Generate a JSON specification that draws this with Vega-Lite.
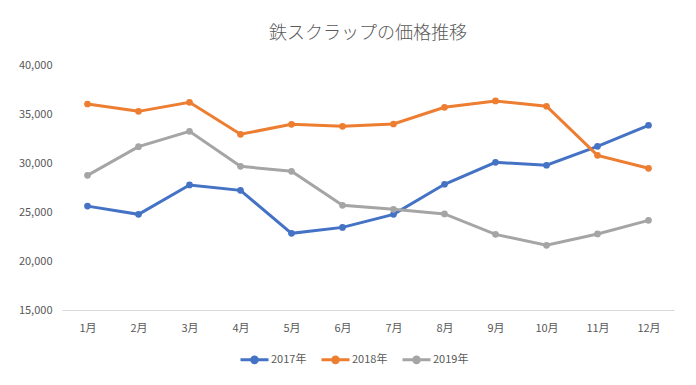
{
  "$schema": "https://vega.github.io/schema/vega-lite/v6.json",
  "width": 612,
  "height": 245,
  "autosize": {"type": "none"},
  "padding": {"left": 62, "top": 65, "right": 22, "bottom": 75},
  "background": "white",
  "title": {
    "text": "鉄スクラップの価格推移",
    "font": "Noto Sans CJK JP",
    "fontSize": 18,
    "fontWeight": 300,
    "color": "#595959",
    "anchor": "middle",
    "offset": 16
  },
  "data": {
    "values": [
      {"month": "1月", "series": "2017年", "price": 25600},
      {"month": "2月", "series": "2017年", "price": 24760},
      {"month": "3月", "series": "2017年", "price": 27760},
      {"month": "4月", "series": "2017年", "price": 27210},
      {"month": "5月", "series": "2017年", "price": 22820},
      {"month": "6月", "series": "2017年", "price": 23430},
      {"month": "7月", "series": "2017年", "price": 24760},
      {"month": "8月", "series": "2017年", "price": 27830},
      {"month": "9月", "series": "2017年", "price": 30070},
      {"month": "10月", "series": "2017年", "price": 29770},
      {"month": "11月", "series": "2017年", "price": 31700},
      {"month": "12月", "series": "2017年", "price": 33850},
      {"month": "1月", "series": "2018年", "price": 36020},
      {"month": "2月", "series": "2018年", "price": 35270},
      {"month": "3月", "series": "2018年", "price": 36190},
      {"month": "4月", "series": "2018年", "price": 32930},
      {"month": "5月", "series": "2018年", "price": 33950},
      {"month": "6月", "series": "2018年", "price": 33740},
      {"month": "7月", "series": "2018年", "price": 33980},
      {"month": "8月", "series": "2018年", "price": 35680},
      {"month": "9月", "series": "2018年", "price": 36330},
      {"month": "10月", "series": "2018年", "price": 35790},
      {"month": "11月", "series": "2018年", "price": 30780},
      {"month": "12月", "series": "2018年", "price": 29460},
      {"month": "1月", "series": "2019年", "price": 28740},
      {"month": "2月", "series": "2019年", "price": 31670},
      {"month": "3月", "series": "2019年", "price": 33230},
      {"month": "4月", "series": "2019年", "price": 29660},
      {"month": "5月", "series": "2019年", "price": 29150},
      {"month": "6月", "series": "2019年", "price": 25680},
      {"month": "7月", "series": "2019年", "price": 25270},
      {"month": "8月", "series": "2019年", "price": 24800},
      {"month": "9月", "series": "2019年", "price": 22720},
      {"month": "10月", "series": "2019年", "price": 21600},
      {"month": "11月", "series": "2019年", "price": 22760},
      {"month": "12月", "series": "2019年", "price": 24150}
    ]
  },
  "mark": {
    "type": "line",
    "strokeWidth": 3,
    "point": {"filled": true, "size": 45}
  },
  "encoding": {
    "x": {
      "field": "month",
      "type": "ordinal",
      "sort": ["1月","2月","3月","4月","5月","6月","7月","8月","9月","10月","11月","12月"],
      "scale": {"type": "point", "padding": 0.5},
      "axis": {
        "title": null,
        "labelAngle": 0,
        "ticks": false,
        "tickSize": 0,
        "labelPadding": 12,
        "domainColor": "#D9D9D9",
        "domainWidth": 1,
        "grid": false
      }
    },
    "y": {
      "field": "price",
      "type": "quantitative",
      "scale": {"domain": [15000, 40000], "nice": false, "zero": false},
      "axis": {
        "title": null,
        "values": [15000, 20000, 25000, 30000, 35000, 40000],
        "format": ",.0f",
        "domain": false,
        "ticks": false,
        "tickSize": 0,
        "labelPadding": 10,
        "grid": false
      }
    },
    "color": {
      "field": "series",
      "type": "nominal",
      "scale": {"domain": ["2017年", "2018年", "2019年"], "range": ["#4472C4", "#ED7D31", "#A5A5A5"]},
      "legend": {
        "title": null,
        "orient": "none",
        "legendX": 177,
        "legendY": 279,
        "direction": "horizontal",
        "symbolType": "M-1,0L1,0M0,-0.2A0.2,0.2 0 1,1 0,0.2A0.2,0.2 0 1,1 0,-0.2",
        "symbolSize": 784,
        "symbolStrokeWidth": 3,
        "labelOffset": 1,
        "columnPadding": 8
      }
    }
  },
  "config": {
    "view": {"stroke": null},
    "font": "Noto Sans CJK JP",
    "axis": {"labelFont": "Noto Sans CJK JP", "labelFontSize": 11, "labelColor": "#595959"},
    "legend": {"labelFont": "Noto Sans CJK JP", "labelFontSize": 11, "labelColor": "#595959"}
  }
}
